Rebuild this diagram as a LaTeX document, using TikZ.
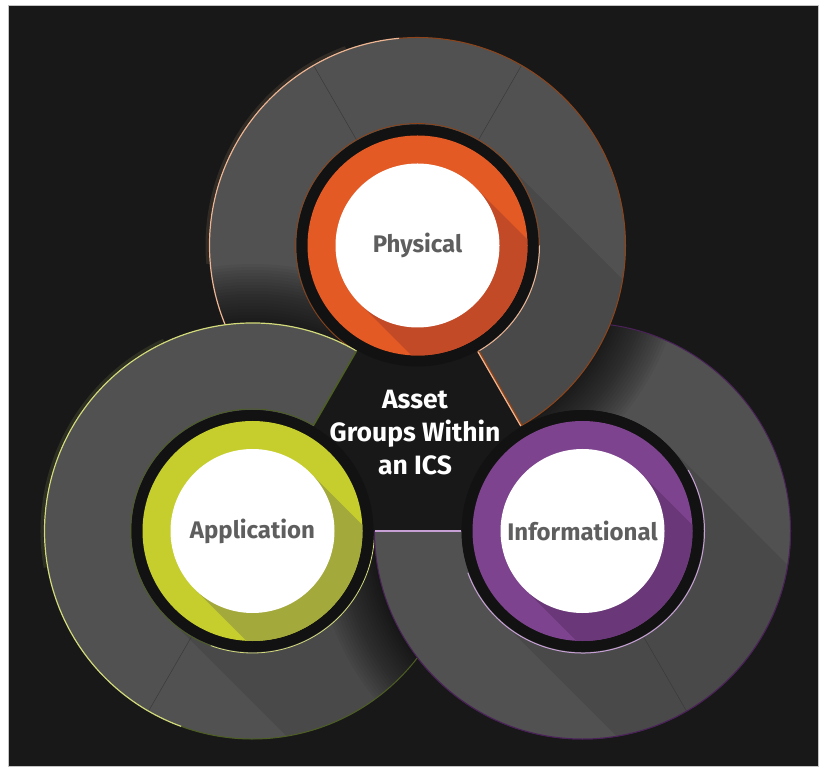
\documentclass[tikz,border=0pt]{standalone}
\usepackage{fontspec}
\setmainfont{Fira Sans}
\usetikzlibrary{calc}

\definecolor{bgdark}{HTML}{181818}
\definecolor{framegray}{HTML}{C4C4C4}
\definecolor{ringgray}{HTML}{515151}
\definecolor{seamgray}{HTML}{3A3A3A}
\definecolor{holeblack}{HTML}{121212}
\definecolor{physorange}{HTML}{E35A25}
\definecolor{physdark}{HTML}{C24A26}
\definecolor{physpeach}{HTML}{EDB592}
\definecolor{physbrown}{HTML}{8E4318}
\definecolor{applime}{HTML}{C5CE2D}
\definecolor{appdark}{HTML}{A3A93B}
\definecolor{applight}{HTML}{D2DA7A}
\definecolor{appolive}{HTML}{4C5E22}
\definecolor{infopurple}{HTML}{7E438E}
\definecolor{infodark}{HTML}{6A3878}
\definecolor{infolav}{HTML}{C7A0D6}
\definecolor{infodeep}{HTML}{4B2159}
\definecolor{labelgray}{HTML}{5E5E5E}

\tikzset{
  ringpath/.style n args={3}{insert path={
    ($(#1)+(#2:121)$) -- ($(#1)+(#2:208)$)
    arc[start angle=#2, end angle=#3, radius=208]
    -- ($(#1)+(#3:121)$)
    arc[start angle=#3, end angle=#2, radius=121] -- cycle}},
  longshadow/.style 2 args={insert path={
    ($(#1)+(45:#2)$) -- ++(-45:320) -- ($(#1)+(225:#2)+(-45:320)$)
    -- ($(#1)+(225:#2)$) -- cycle}},
  label text/.style={font=\fontsize{24}{28}\selectfont\bfseries, text=labelgray},
  title text/.style={font=\fontsize{26.5}{33}\selectfont\bfseries, text=white, align=center},
}

% gray ring: centre, start, end, ring lying on top, seam angles
\newcommand{\ringbody}[5]{%
  \begin{scope}
    \clip[ringpath={#1}{#2}{#3}];
    \fill[ringgray] (#1) circle[radius=210];
    \fill[black, opacity=0.09, longshadow={#1}{121}];
    \foreach \k in {1,...,20}
      \fill[black, opacity=0.045] (#4) circle[radius=207+3*\k];
    \foreach \s in {#5}
      \draw[seamgray, line width=0.5pt] ($(#1)+(\s:121)$) -- ($(#1)+(\s:208)$);
  \end{scope}}

% edges of the informational ring
\newcommand{\infoedges}{%
  \draw[infodeep, line width=1pt] ($(I)+(180:208)$) arc[start angle=180, end angle=480, radius=208];
  \draw[infolav, line width=1pt] ($(I)+(200:122)$) arc[start angle=200, end angle=390, radius=122];
  \draw[infolav, line width=2pt] ($(I)+(180:122)$) -- ($(I)+(180:208)$);}

% colour disc with long shadow
\newcommand{\colordisc}[3]{%
  \fill[holeblack] (#1) circle[radius=121];
  \fill[#2] (#1) circle[radius=110];
  \begin{scope}
    \clip (#1) circle[radius=110];
    \fill[#3, longshadow={#1}{82}];
  \end{scope}
  \fill[white] (#1) circle[radius=82];}

\begin{document}
\begin{tikzpicture}[x=1pt, y=1pt]
\useasboundingbox (0,0) rectangle (826,771);
\fill[white] (0,0) rectangle (826,771);
\fill[bgdark, draw=framegray, line width=0.8pt] (8.5,5) rectangle (818.5,765.5);

\coordinate (P) at (417.5,525.5);
\coordinate (A) at (252.5,240);
\coordinate (I) at (582.5,240);

% soft glows round the outer edges
\draw[physpeach, opacity=0.12, line width=3pt] ($(P)+(110:210.5)$) arc[start angle=110, end angle=185, radius=210.5];
\draw[applight, opacity=0.12, line width=3pt] ($(A)+(115:210.5)$) arc[start angle=115, end angle=190, radius=210.5];

% informational ring (lowest)
\ringbody{I}{180}{480}{P}{300}
\infoedges

% physical ring
\ringbody{P}{-60}{240}{A}{60,120}
\draw[physpeach, line width=1.2pt] ($(P)+(240:208)$) arc[start angle=240, end angle=95, radius=208];
\draw[physbrown, line width=1pt] ($(P)+(95:208)$) arc[start angle=95, end angle=-60, radius=208];
\draw[physbrown, line width=0.8pt] ($(P)+(0:122)$) arc[start angle=0, end angle=240, radius=122];
\draw[physpeach, line width=1pt] ($(P)+(-60:122)$) arc[start angle=-60, end angle=0, radius=122];
\draw[physbrown, line width=2.4pt] ($(P)+(-60:122)$) -- ($(P)+(-60:208)$);
\draw[physpeach, line width=1.2pt] ($(P)+(-60:122)+(-150:0.8)$) -- ($(P)+(-60:208)+(-150:0.8)$);

% application ring
\ringbody{A}{60}{360}{I}{240}
\draw[applight, line width=1.2pt] ($(A)+(60:208)$) arc[start angle=60, end angle=250, radius=208];
\draw[appolive, line width=1pt] ($(A)+(250:208)$) arc[start angle=250, end angle=360, radius=208];
\draw[appolive, line width=0.8pt] ($(A)+(60:122)$) arc[start angle=60, end angle=250, radius=122];
\draw[applight, line width=0.8pt] ($(A)+(250:122)$) arc[start angle=250, end angle=360, radius=122];
\draw[appolive, line width=1.5pt] ($(A)+(60:122)$) -- ($(A)+(60:208)$);

% informational ring again, over the application ring
\begin{scope}
  \clip (0,0) rectangle (826,241.5);
  \ringbody{I}{180}{480}{P}{300}
  \infoedges
\end{scope}

% colour discs
\colordisc{P}{physorange}{physdark}
\colordisc{A}{applime}{appdark}
\colordisc{I}{infopurple}{infodark}

\node[label text] (physical) at (P) {Physical};
\node[label text] (application) at (A) {Application};
\node[label text] (informational) at (I) {Informational};
\node[title text] (title) at (415,338) {Asset\\Groups Within\\an ICS};
\end{tikzpicture}
\end{document}
